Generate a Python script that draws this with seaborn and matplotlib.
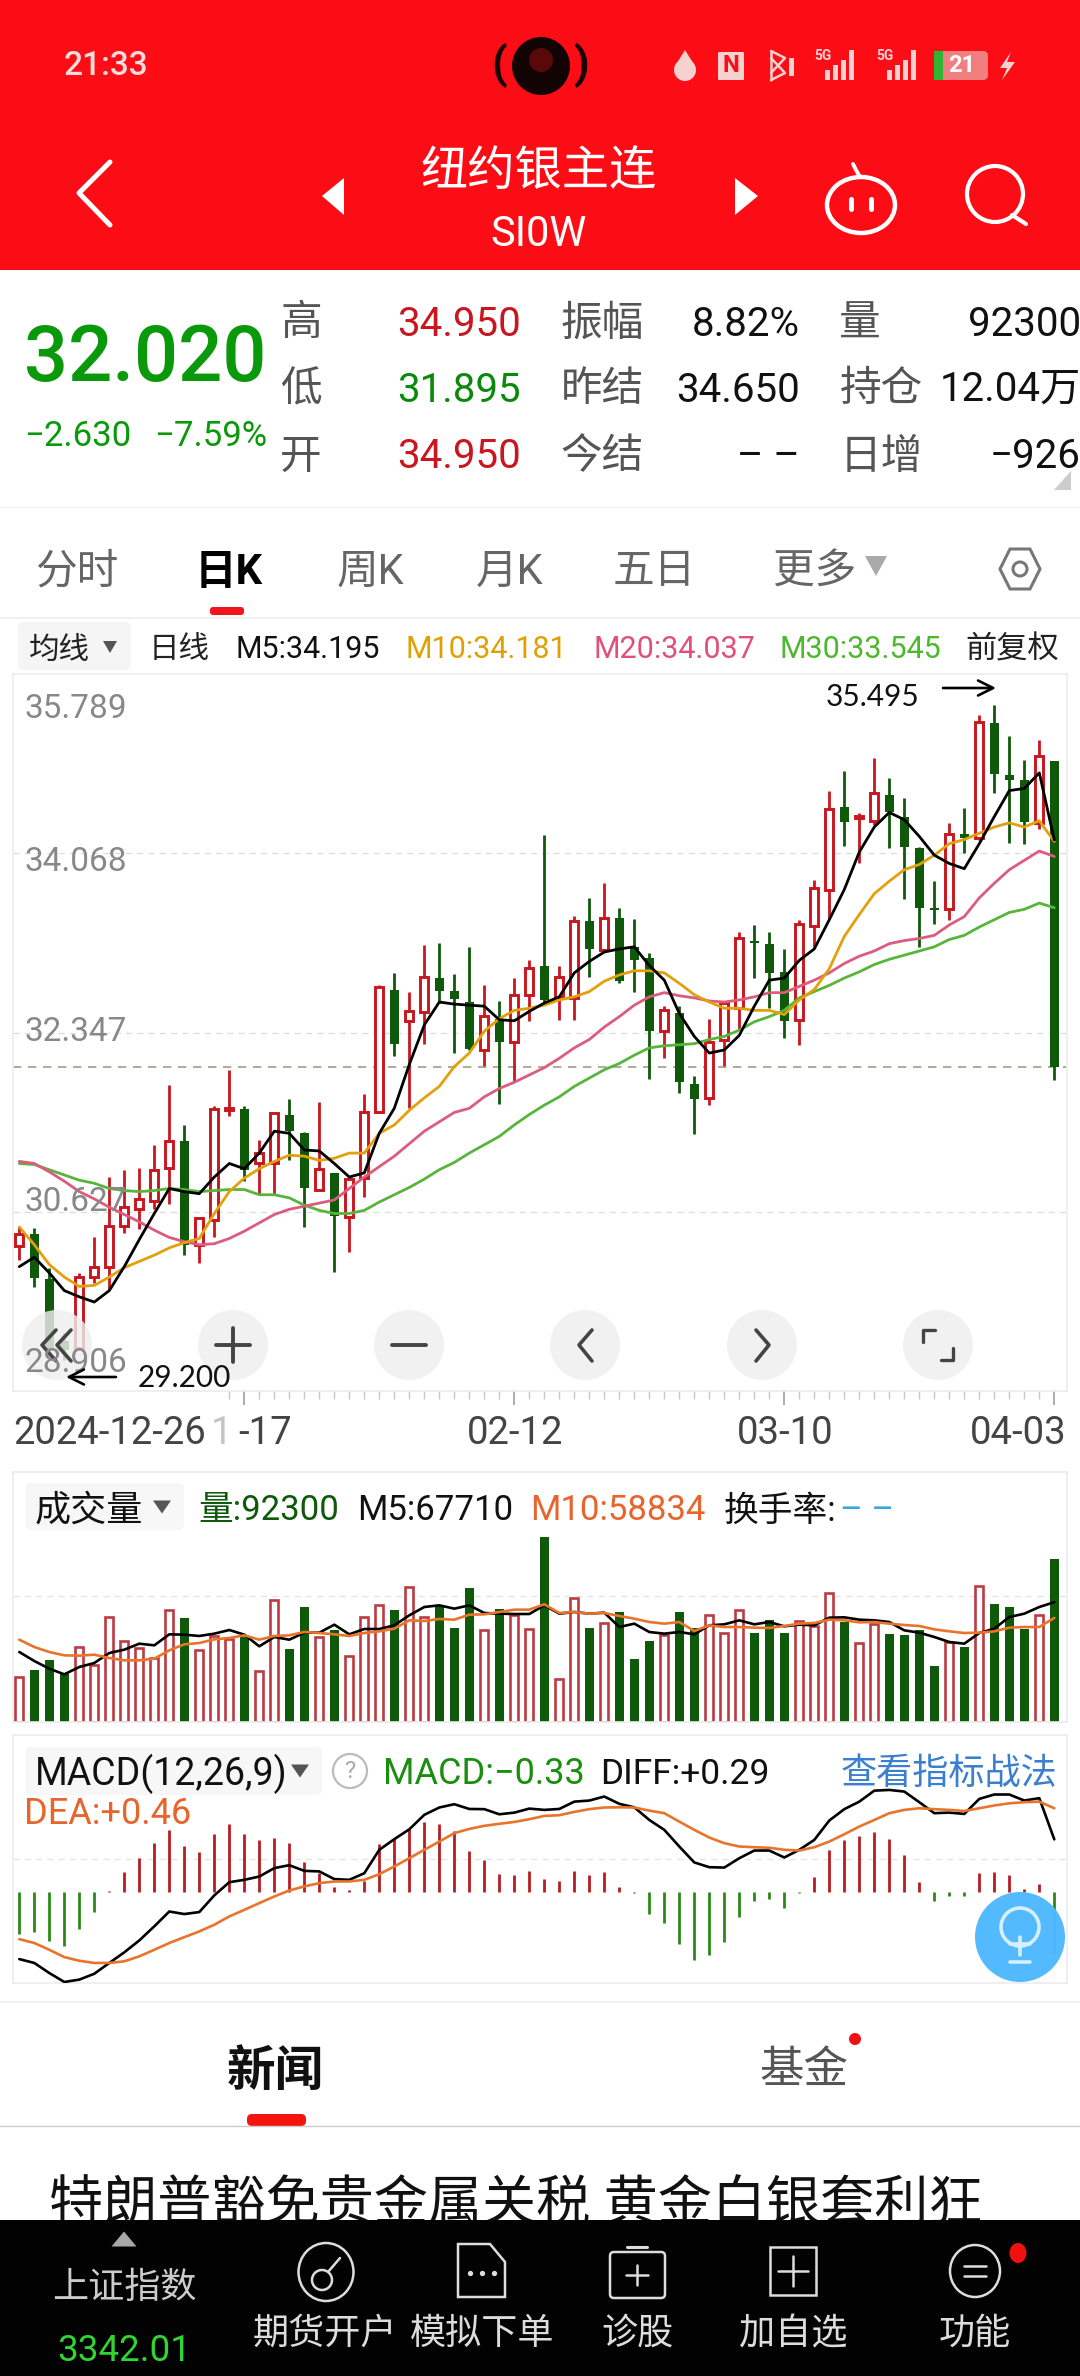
import numpy as np
import pandas as pd
import seaborn as sns
import matplotlib
matplotlib.use('Agg')
import matplotlib.pyplot as plt
from matplotlib.patches import Circle, Ellipse, Rectangle, Polygon, FancyBboxPatch

# candles
high = [30.48,30.47,30.09,29.46,30.04,30.38,30.96,31.03,31.05,31.27,31.84,31.46,30.58,31.64,31.99,31.64,31.32,31.57,31.71,31.39,
        31.68,31.00,30.95,31.76,32.80,32.92,32.74,33.19,33.21,32.91,33.17,32.80,32.65,32.87,33.04,34.24,32.99,33.47,33.64,33.78,
        33.54,33.44,33.11,32.60,32.60,31.93,32.48,32.64,33.31,33.38,33.31,33.15,33.43,33.81,34.67,34.86,34.45,34.98,34.79,34.60,
        34.13,33.80,34.36,34.50,35.40,35.495,35.19,34.96,35.16,34.95]
body_top = [30.41,30.41,29.98,29.39,30.00,30.10,30.49,30.67,30.75,31.03,31.31,31.31,30.57,31.61,31.62,31.61,31.19,31.57,31.56,31.38,
            31.04,31.00,30.94,31.585,32.78,32.76,32.55,32.88,32.87,32.75,32.64,32.51,32.48,32.71,32.97,32.99,32.88,33.42,33.42,33.45,
            33.45,33.17,33.06,32.56,32.53,31.85,32.26,32.63,33.25,33.23,33.20,32.93,33.39,33.73,34.49,34.51,34.43,34.65,34.63,34.42,
            34.12,33.54,34.25,34.25,35.33,35.32,34.82,34.77,35.00,34.95]
body_bot = [30.30,29.99,29.30,29.30,29.32,30.00,30.10,30.49,30.65,30.73,31.05,30.31,30.31,30.55,31.60,31.03,31.09,31.09,31.40,30.85,
            30.84,30.59,30.58,30.95,31.58,32.24,32.46,32.54,32.75,32.67,32.19,32.18,32.26,32.26,32.71,32.66,32.69,32.68,33.15,33.14,
            32.84,33.04,32.36,32.36,31.87,31.71,31.72,32.28,32.58,33.21,32.92,32.46,32.47,33.37,33.72,34.37,34.41,34.38,34.46,34.13,
            33.54,33.52,33.53,34.21,34.21,34.83,34.77,34.37,34.36,32.02]
low = [30.16,29.90,29.22,29.20,29.30,29.94,29.88,30.42,30.46,30.65,30.70,30.21,30.13,30.38,31.55,30.92,30.80,30.80,31.12,30.48,
       30.84,30.05,30.24,30.77,31.57,32.12,31.62,32.24,32.63,32.15,32.18,32.03,31.66,31.88,32.46,32.63,32.47,32.47,32.88,33.12,
       32.82,32.74,31.90,32.10,31.77,31.37,31.65,32.03,32.37,32.87,32.58,32.29,32.23,33.17,33.44,34.14,33.97,34.34,34.12,33.63,
       33.17,33.39,33.43,34.07,34.20,34.65,34.17,34.16,34.30,31.895]
# 1 = closed up (hollow red), 0 = closed down (solid green)
up = [1,0,0,0,1,1,1,1,1,1,1,0,1,1,1,0,1,1,0,0,
      1,0,1,1,1,0,1,1,0,0,0,1,0,1,1,0,1,1,0,1,
      0,0,0,1,0,0,1,1,1,0,0,0,1,1,1,0,1,1,0,0,
      0,0,1,0,1,0,0,0,1,0]

ma5 = [30.10,30.19,30.04,29.87,29.81,29.76,29.87,30.10,30.36,30.61,30.85,30.82,30.80,30.96,31.09,31.04,31.19,31.40,31.38,31.22,
       31.21,31.09,30.96,31.00,31.38,31.62,32.04,32.42,32.64,32.62,32.61,32.60,32.47,32.46,32.55,32.63,32.69,32.92,33.03,33.12,
       33.15,33.17,32.99,32.85,32.53,32.31,32.15,32.18,32.32,32.60,32.85,32.87,33.04,33.15,33.43,33.72,34.08,34.32,34.46,34.39,
       34.23,34.05,33.97,33.92,34.16,34.42,34.67,34.69,34.84,34.195]
ma10 = [30.48,30.31,30.12,30.00,29.91,29.92,30.00,30.09,30.15,30.21,30.28,30.33,30.37,30.61,30.82,30.95,31.04,31.11,31.17,31.16,
        31.12,31.14,31.19,31.19,31.38,31.46,31.60,31.72,31.83,32.02,32.15,32.36,32.48,32.56,32.58,32.61,32.66,32.69,32.74,32.84,
        32.90,32.94,32.94,32.92,32.82,32.71,32.64,32.58,32.58,32.56,32.56,32.52,32.66,32.76,32.96,33.27,33.48,33.68,33.80,33.91,
        33.96,34.05,34.16,34.20,34.26,34.32,34.36,34.32,34.38,34.181]
ma20 = [31.11,31.09,31.01,30.92,30.82,30.75,30.67,30.60,30.53,30.45,30.38,30.34,30.31,30.32,30.37,30.44,30.52,30.60,30.65,30.68,
        30.71,30.74,30.85,30.96,31.06,31.16,31.28,31.40,31.49,31.58,31.62,31.73,31.81,31.87,31.94,32.01,32.10,32.20,32.28,32.40,
        32.50,32.61,32.69,32.73,32.70,32.68,32.65,32.64,32.66,32.69,32.73,32.73,32.79,32.85,32.92,33.01,33.08,33.13,33.20,33.23,
        33.25,33.28,33.38,33.46,33.64,33.78,33.91,34.00,34.09,34.037]
ma30 = [31.09,31.08,31.03,30.98,30.93,30.90,30.85,30.83,30.82,30.83,30.85,30.84,30.82,30.83,30.84,30.84,30.79,30.79,30.76,30.69,
        30.64,30.61,30.61,30.64,30.72,30.79,30.86,30.94,31.03,31.10,31.19,31.27,31.35,31.46,31.56,31.65,31.73,31.83,31.91,31.99,
        32.05,32.13,32.20,32.22,32.23,32.24,32.28,32.31,32.37,32.45,32.50,32.56,32.68,32.74,32.80,32.87,32.93,33.00,33.05,33.09,
        33.13,33.17,33.24,33.28,33.36,33.43,33.50,33.53,33.59,33.545]

volume = [25430,29200,35230,26940,42200,32400,59350,45590,41640,36360,63490,58590,40510,48610,47100,48040,28830,68770,41450,65000,
          48040,51810,37110,59350,65940,63110,76300,59350,65940,52940,75550,51810,64060,60660,52560,104560,24300,69900,52940,56140,
          62170,35610,45590,48980,62170,53320,60660,50300,63490,50300,57460,50110,57090,54070,72720,56520,44460,55580,49550,48980,
          52190,31460,45220,42390,76870,66880,65000,52750,60660,92300]
vol_m5 = [39560,34480,30140,26940,31090,33350,39000,40880,44270,43330,49550,49360,48610,49930,52000,49360,42770,48040,46530,50490,
          50490,55010,49550,52560,52560,54640,60290,65000,65940,64060,65940,61610,61230,61040,61040,65940,61230,62170,61230,61800,
          53690,55580,50870,49930,50870,49550,54640,55200,57460,55200,56520,54070,55010,54640,58970,59160,57840,57460,56520,51810,
          50490,48040,45220,44270,50300,52750,59350,61230,65000,67710]
vol_m10 = [46530,42390,39560,37680,37490,38060,36170,34850,34850,35800,40510,43900,44650,46720,47480,48980,46530,48610,48980,50870,
           50300,49550,48610,50300,51240,52750,57460,57090,58220,57840,60660,60850,62170,63490,63490,66510,61610,62170,61230,61610,
           59910,58400,56520,55580,56520,51430,54640,53690,53690,53320,53130,54260,55580,55950,57840,57460,56330,56520,55580,54820,
           54260,52380,51240,50300,50490,51240,53320,53690,53690,58834]

macd = [-.225,-.215,-.267,-.291,-.198,-.107,.007,.111,.187,.269,.342,.253,.22,.32,.373,.32,.287,.3,.269,.169,
        .109,.029,.011,.065,.264,.291,.345,.387,.375,.333,.224,.178,.1,.096,.116,.075,.065,.115,.098,.111,
        .031,-.005,-.118,-.167,-.284,-.367,-.34,-.269,-.135,-.049,-.035,-.085,-.005,.087,.231,.287,.309,.329,.291,.202,
        .056,-.044,-.022,-.022,.105,.111,.096,.02,.045,-.33]
diff = [-.364,-.385,-.44,-.489,-.476,-.444,-.385,-.327,-.262,-.185,-.104,-.118,-.107,-.016,.056,.069,.087,.133,.149,.118,
        .115,.073,.069,.105,.233,.291,.345,.424,.464,.482,.456,.455,.427,.436,.458,.451,.456,.496,.502,.524,
        .484,.465,.396,.342,.251,.164,.138,.136,.187,.229,.229,.191,.233,.287,.393,.455,.496,.556,.56,.551,
        .493,.433,.436,.429,.511,.535,.535,.502,.515,.29]
dea = [-.255,-.276,-.313,-.353,-.373,-.385,-.385,-.376,-.349,-.313,-.276,-.244,-.213,-.176,-.131,-.095,-.058,-.022,.011,.033,
       .051,.06,.06,.069,.1,.142,.187,.233,.278,.324,.347,.364,.375,.385,.4,.418,.422,.44,.455,.464,
       .465,.464,.447,.433,.387,.342,.3,.269,.251,.247,.244,.233,.229,.247,.278,.318,.36,.396,.433,.451,
       .46,.455,.451,.445,.46,.475,.487,.493,.496,.46]

price_grid = [34.068, 32.347, 30.627]
last_close = 32.02
tab_names = ['分时', '周K', '月K', '五日', '更多']

W, H = 1080, 2376
RED, GREEN = '#c9161f', '#0f5a0a'
VOL_RED = '#bd3a42'

sns.set_theme(style='white')
plt.rcParams['font.family'] = ['Roboto', 'Noto Sans CJK SC', 'DejaVu Sans']
plt.rcParams['axes.unicode_minus'] = False

fig = plt.figure(figsize=(W / 100, H / 100), dpi=100, facecolor='white')


def px_axes(left, top, right, bottom):
    a = fig.add_axes([left / W, 1 - bottom / H, (right - left) / W, (bottom - top) / H], zorder=2)
    a.set_facecolor('white')
    for s in a.spines.values():
        s.set_color('#ececec')
        s.set_linewidth(1.2)
    a.set_xticks([])
    a.set_yticks([])
    a.set_xlabel('')
    a.set_ylabel('')
    return a


df = pd.DataFrame({'i': np.arange(len(high)), 'high': high, 'low': low, 'top': body_top, 'bot': body_bot, 'up': up,
                   'volume': volume, 'macd': macd})
XLIM = ((13 - 19.3) / 15, (1067 - 19.3) / 15)

# price panel
ax = px_axes(13, 674, 1067, 1391)
rise = df[df.up == 1]
fall = df[df.up == 0]
ax.vlines(rise.i, rise.low, rise.high, color=RED, lw=2.0, zorder=2)
ax.vlines(fall.i, fall.low, fall.high, color=GREEN, lw=2.0, zorder=2)
ax.bar(rise.i, rise.top - rise.bot, bottom=rise.bot, width=0.53, facecolor='white', edgecolor=RED, linewidth=2.1, zorder=3)
ax.bar(fall.i, fall.top - fall.bot, bottom=fall.bot, width=0.6, color=GREEN, linewidth=0, zorder=3)
ax.hlines(price_grid, *XLIM, color='#dddddd', lw=0.9, linestyles=(0, (5, 4)), zorder=1)
ax.hlines(last_close, *XLIM, color='#a39d84', lw=1.2, linestyles=(0, (5, 4)), zorder=1)
ma = pd.DataFrame({'i': df.i, 'M5': ma5, 'M10': ma10, 'M20': ma20, 'M30': ma30}).melt('i', var_name='ma', value_name='price')
sns.lineplot(data=ma, x='i', y='price', hue='ma', linewidth=2.0, legend=False, ax=ax, zorder=4,
             palette={'M5': '#000000', 'M10': '#e2a00c', 'M20': '#dc5c7e', 'M30': '#58b53c'},
             hue_order=['M30', 'M20', 'M10', 'M5'])
ax.set_xlim(XLIM)
ax.set_ylim(28.906, 35.789)
ax.set_xlabel('')
ax.set_ylabel('')
ax.set_yticks([])
ax.set_xticks([15, 33, 51, 69])
ax.set_xticks(range(14, 70), minor=True)
ax.tick_params(axis='x', which='major', bottom=True, length=10, width=1.2, color='#a0a0a0', labelbottom=False)
ax.tick_params(axis='x', which='minor', bottom=True, length=5.5, width=1, color='#c8c8c8')

# volume panel
ax_v = px_axes(13, 1472, 1067, 1722)
sns.barplot(data=df[df.up == 1], x='i', y='volume', native_scale=True, width=0.55, color='white', saturation=1,
            edgecolor=VOL_RED, linewidth=1.9, ax=ax_v, zorder=2)
sns.barplot(data=df[df.up == 0], x='i', y='volume', native_scale=True, width=0.6, color=GREEN, saturation=1,
            linewidth=0, ax=ax_v, zorder=2)
ax_v.axhline(71000, color='#e4e4e4', lw=0.9, ls=(0, (5, 4)), zorder=1)
vol_ma = pd.DataFrame({'i': df.i, 'M5': vol_m5, 'M10': vol_m10}).melt('i', var_name='ma', value_name='v')
sns.lineplot(data=vol_ma, x='i', y='v', hue='ma', linewidth=1.9, legend=False, ax=ax_v, zorder=4,
             palette={'M5': '#000000', 'M10': '#e8742c'})
ax_v.set_xlim(XLIM)
ax_v.set_ylim(0, 141300)
ax_v.set_xticks([])
ax_v.set_yticks([])
ax_v.set_xlabel('')
ax_v.set_ylabel('')

# macd panel
ax_m = px_axes(13, 1735, 1067, 1983)
pos = df[df.macd >= 0]
neg = df[df.macd < 0]
ax_m.vlines(pos.i, 0, pos.macd, color='#b51c24', lw=2.0, zorder=2)
ax_m.vlines(neg.i, 0, neg.macd, color='#2a8a16', lw=2.0, zorder=2)
ax_m.axhline(0.182, color='#e4e4e4', lw=0.9, ls=(0, (5, 4)), zorder=1)
macd_lines = pd.DataFrame({'i': df.i, 'DIFF': diff, 'DEA': dea}).melt('i', var_name='line', value_name='v')
sns.lineplot(data=macd_lines, x='i', y='v', hue='line', linewidth=1.9, legend=False, ax=ax_m, zorder=4,
             palette={'DIFF': '#000000', 'DEA': '#e8742c'})
ax_m.set_xlim(XLIM)
ax_m.set_ylim(-0.4945, 0.86)
ax_m.set_xticks([])
ax_m.set_yticks([])
ax_m.set_xlabel('')
ax_m.set_ylabel('')

# screen chrome lives on a full-figure overlay measured in screen pixels
ui = fig.add_axes([0, 0, 1, 1], zorder=5)
ui.set_xlim(0, W)
ui.set_ylim(H, 0)
ui.axis('off')
ui.patch.set_alpha(0)


def label(x, y, s, size, color='#111111', ha='center', **kw):
    # +3: matplotlib's centring leaves these fonts a bit high
    return ui.text(x, y + 3, s, fontsize=size, color=color, ha=ha, va='center', **kw)


def line(xs, ys, color='white', lw=2.5, **kw):
    ui.plot(xs, ys, color=color, lw=lw, solid_capstyle='round', **kw)


def box(l, t, r, b, color, rad=6):
    ui.add_patch(FancyBboxPatch((l + rad, t + rad), r - l - 2 * rad, b - t - 2 * rad, boxstyle=f'round,pad={rad}',
                                facecolor=color, edgecolor='none'))


def tri(cx, cy, w, h, color, down=True):
    d = h / 2 if down else -h / 2
    ui.add_patch(Polygon([(cx - w / 2, cy - d), (cx + w / 2, cy - d), (cx, cy + d)], facecolor=color, edgecolor='none'))


# red header
ui.add_patch(Rectangle((0, 0), W, 270, facecolor='#fc0d15', edgecolor='none'))
label(106, 63, '21:33', 24, '#f6dcdc', weight='medium')
ui.add_patch(Circle((541, 66), 29, facecolor='#120404', edgecolor='none'))
ui.add_patch(Circle((541, 60), 12, facecolor='#5a0808', edgecolor='none'))
label(499, 62, '(', 32, '#1a0505', weight='bold')
label(581, 62, ')', 32, '#1a0505', weight='bold')
# status icons
ui.add_patch(Circle((685, 70), 11, facecolor='#f7d0d0', edgecolor='none'))
ui.add_patch(Polygon([(685, 50), (695, 66), (675, 66)], facecolor='#f7d0d0', edgecolor='none'))
ui.add_patch(FancyBboxPatch((719, 53), 24, 26, boxstyle='round,pad=1', facecolor='#f7d0d0', edgecolor='none'))
label(731, 63, 'N', 17, '#fc0d15', weight='bold')
line([771, 785, 771], [58, 73, 80], color='#f7d0d0', lw=1.8)
line([771, 785, 771], [73, 58, 51], color='#f7d0d0', lw=1.8)
line([771, 771], [51, 80], color='#f7d0d0', lw=1.8)
ui.add_patch(Rectangle((789, 58), 5, 18, facecolor='#f7d0d0', edgecolor='none'))
for x0 in (818, 880):
    label(x0 + 5, 53, '5G', 10, '#f7d0d0', weight='bold')
    for k, h_bar in enumerate((10, 15, 20, 30)):
        ui.add_patch(Rectangle((x0 + 7 + k * 8, 80 - h_bar), 5, h_bar, facecolor='#f7d0d0', edgecolor='none'))
box(934, 51, 988, 80, '#f27f7f', rad=5)
ui.add_patch(Rectangle((934, 51), 9, 29, facecolor='#2fb52f', edgecolor='none'))
label(962, 63, '21', 17, 'white', weight='bold')
ui.add_patch(Polygon([(1011, 52), (1000, 68), (1007, 68), (1002, 80), (1015, 62), (1007, 62)], facecolor='#f7d0d0', edgecolor='none'))
# title row
line([110, 79, 110], [162, 193, 225], lw=3.6)
ui.add_patch(Polygon([(322, 196), (344, 178), (344, 215)], facecolor='white', edgecolor='none'))
ui.add_patch(Polygon([(758, 196), (735, 178), (735, 215)], facecolor='white', edgecolor='none'))
label(539, 169, '纽约银主连', 34, 'white')
label(539, 232, 'SI0W', 30, 'white')
ui.add_patch(Ellipse((861, 205), 68, 56, facecolor='none', edgecolor='white', lw=3.2))
line([851, 851], [199, 209], lw=3.6)
line([871, 871], [199, 209], lw=3.6)
line([853, 856, 860], [164, 170, 177], lw=2.8)
ui.add_patch(Circle((995, 194), 28, facecolor='none', edgecolor='white', lw=3))
line([1012, 1026], [215, 224], lw=3)

# quote block
label(145, 357, '32.020', 56, '#0a990a', weight='medium')
label(78, 434, '−2.630', 25, '#0a990a')
label(211, 434, '−7.59%', 25, '#0a990a')
rows = [321, 387, 454]
for y, s in zip(rows, ['高', '低', '开']):
    label(301, y, s, 30, '#555555')
for y, s, c in zip(rows, ['34.950', '31.895', '34.950'], [RED, '#0a8a0a', RED]):
    label(521, y, s, 29, c, ha='right')
for y, s in zip(rows, ['振幅', '昨结', '今结']):
    label(602, y, s, 30, '#555555')
for y, s in zip(rows, ['8.82%', '34.650', '– –']):
    label(800, y, s, 29, '#111111', ha='right')
label(839, rows[0], '量', 30, '#555555', ha='left')
label(881, rows[1], '持仓', 30, '#555555')
label(881, rows[2], '日增', 30, '#555555')
label(1081, rows[0], '92300', 29, '#111111', ha='right')
label(1081, rows[1], '12.04万', 29, '#111111', ha='right')
label(1081, rows[2], '−926', 29, '#111111', ha='right')
ui.add_patch(Polygon([(1071, 471), (1071, 490), (1054, 490)], facecolor='#cccccc', edgecolor='none'))
line([0, W], [507, 507], color='#f0f0f0', lw=1)

# tabs
for x, s in zip([77, 370, 510, 654, 815], tab_names):
    label(x, 569, s, 30, '#666666')
label(229, 569, '日K', 30, '#000000', weight='bold')
tri(876, 566, 22, 20, '#aaaaaa')
ui.add_patch(Polygon([(1000, 569), (1010, 549), (1030, 549), (1040, 569), (1030, 589), (1010, 589)], facecolor='none', edgecolor='#777777', lw=2.2))
ui.add_patch(Circle((1020, 569), 7, facecolor='none', edgecolor='#777777', lw=2.2))
box(210, 607, 244, 615, '#f0151c', rad=3)
line([0, W], [618, 618], color='#eeeeee', lw=1.2)

# moving average legend
box(18, 622, 131, 670, '#f5f5f5', rad=5)
label(59, 647, '均线', 22, '#222222')
tri(110, 647, 14, 12, '#555555')
label(179, 647, '日线', 22, '#222222')
label(236, 647, 'M5:34.195', 22, '#111111', ha='left')
label(405, 647, 'M10:34.181', 22, '#e0a000', ha='left')
label(593, 647, 'M20:34.037', 22, '#e0507a', ha='left')
label(779, 647, 'M30:33.545', 22, '#4cb82c', ha='left')
label(1012, 647, '前复权', 22.5, '#222222')

# price labels sit a little off their grid lines in the app
for y, s in zip([706, 859, 1029, 1199, 1360], ['35.789', '34.068', '32.347', '30.627', '28.906']):
    label(25, y, s, 24, '#888888', ha='left')

label(873, 694, '35.495', 21.5, '#111111', family=['Lato', 'Noto Sans CJK SC'])
ui.annotate('', xy=(996, 688), xytext=(943, 688), arrowprops=dict(arrowstyle='->,head_length=0.9,head_width=0.45', color='black', lw=1.9, shrinkA=0, shrinkB=0))
label(184, 1375, '29.200', 21.5, '#111111', family=['Lato', 'Noto Sans CJK SC'])
ui.annotate('', xy=(66, 1377), xytext=(116, 1377), arrowprops=dict(arrowstyle='->,head_length=0.9,head_width=0.45', color='black', lw=1.9, shrinkA=0, shrinkB=0))

# floating buttons
for x in (57, 233, 409, 585, 762, 938):
    ui.add_patch(Circle((x, 1345), 35, facecolor='#eeeeee', edgecolor='none', alpha=0.82))
line([56, 42, 56], [1330, 1345, 1361], color='#444444', lw=2.6)
line([71, 57, 71], [1330, 1345, 1361], color='#444444', lw=2.6)
line([216, 250], [1345, 1345], color='#444444', lw=2.8)
line([233, 233], [1328, 1362], color='#444444', lw=2.8)
line([392, 426], [1345, 1345], color='#444444', lw=2.8)
line([592, 579, 592], [1330, 1345, 1361], color='#444444', lw=2.6)
line([756, 769, 756], [1330, 1345, 1361], color='#444444', lw=2.6)
for sx, sy in ((-1, -1), (1, 1)):
    cx, cy = 938 + sx * 15, 1345 + sy * 15
    line([cx, cx, cx - sx * 12], [cy - sy * 12, cy, cy], color='#444444', lw=2.4)

# date row
label(13, 1431, '2024-12-26', 27.5, '#444444', ha='left')
label(232, 1431, '1', 27.5, '#c4c4c4', ha='right')
label(292, 1431, '-17', 27.5, '#444444', ha='right')
label(515, 1431, '02-12', 27.5, '#444444')
label(785, 1431, '03-10', 27.5, '#444444')
label(1067, 1431, '04-03', 27.5, '#444444', ha='right')

# volume header
box(25, 1483, 184, 1530, '#f7f7f7', rad=6)
label(35, 1508, '成交量', 26, '#111111', ha='left')
tri(162, 1507, 18, 13, '#555555')
label(198, 1508, '量:92300', 25, GREEN, ha='left')
label(357, 1508, 'M5:67710', 25, '#111111', ha='left')
label(530, 1508, 'M10:58834', 25, '#e8642c', ha='left')
label(724, 1508, '换手率:', 25, '#111111', ha='left')
label(840, 1508, '– –', 25, '#3aa6dc', ha='left')

# macd header
box(25, 1747, 322, 1795, '#f7f7f7', rad=6)
label(35, 1771, 'MACD(12,26,9)', 27, '#111111', ha='left')
tri(300, 1771, 18, 13, '#555555')
ui.add_patch(Circle((350, 1771), 17, facecolor='white', edgecolor='#bbbbbb', lw=1.6))
label(350, 1768, '?', 17, '#aaaaaa')
label(383, 1771, 'MACD:−0.33', 26, '#1a8f0f', ha='left')
label(600, 1771, 'DIFF:+0.29', 25.5, '#111111', ha='left')
label(841, 1771, '查看指标战法', 26, '#3a7fd0', ha='left')
label(24, 1811, 'DEA:+0.46', 26, '#e8642c', ha='left')

# hint bulb
ui.add_patch(Circle((1020, 1937), 45, facecolor='#4db8ff', edgecolor='none', alpha=0.97))
ui.add_patch(Circle((1020, 1927), 19, facecolor='none', edgecolor='#d6efff', lw=2.6))
line([1010, 1030], [1944, 1944], color='#d6efff', lw=2.6)
line([1020, 1020], [1937, 1955], color='#d6efff', lw=2.6)
line([1010, 1030], [1962, 1962], color='#d6efff', lw=2.6)

# news block
line([0, W], [2002, 2002], color='#f0f0f0', lw=1.2)
label(275, 2070, '新闻', 35, '#111111', weight='bold')
label(804, 2068, '基金', 32, '#555555')
ui.add_patch(Circle((855, 2039), 6, facecolor='#ee1111', edgecolor='none'))
line([0, W], [2126, 2126], color='#cccccc', lw=1)
box(247, 2114, 306, 2126, '#f5150f', rad=5)
label(49, 2203, '特朗普豁免贵金属关税 黄金白银套利狂', 39, '#111111', ha='left')

# bottom bar
ui.add_patch(Rectangle((0, 2220), W, 156, facecolor='#020202', edgecolor='none', zorder=3))
zt = dict(zorder=4)
tri(124, 2239, 25, 15, '#a8a8a8', down=False)
ui.patches[-1].set_zorder(4)
label(124, 2285, '上证指数', 26, '#cccccc', **zt)
label(124, 2348, '3342.01', 26.5, '#2fd62f', **zt)
for x, s in zip([325, 482, 637, 793, 975], ['期货开户', '模拟下单', '诊股', '加自选', '功能']):
    label(x, 2331, s, 26, '#dddddd', **zt)
ic = dict(facecolor='none', edgecolor='#dddddd', lw=1.8, zorder=4)
ui.add_patch(Ellipse((326, 2272), 55, 58, **ic))
ui.add_patch(Circle((322, 2280), 10, **ic))
ui.plot([328, 340], [2272, 2258], color='#dddddd', lw=1.8, zorder=4)
ui.add_patch(Polygon([(458, 2244), (490, 2244), (505, 2262), (505, 2297), (458, 2297)], **ic))
ui.plot([470, 482, 494], [2273, 2273, 2273], ls='none', marker='o', ms=2.8, color='#dddddd', zorder=4)
ui.add_patch(FancyBboxPatch((614, 2256), 47, 38, boxstyle='round,pad=4', **ic))
ui.plot([626, 648], [2275, 2275], color='#dddddd', lw=1.8, zorder=4)
ui.plot([637, 637], [2265, 2285], color='#dddddd', lw=1.8, zorder=4)
ui.plot([627, 647], [2247, 2247], color='#dddddd', lw=2.2, zorder=4)
ui.add_patch(Rectangle((770, 2247), 46, 48, **ic))
ui.plot([778, 808], [2271, 2271], color='#dddddd', lw=1.8, zorder=4)
ui.plot([793, 793], [2256, 2286], color='#dddddd', lw=1.8, zorder=4)
ui.add_patch(Ellipse((975, 2271), 50, 52, **ic))
ui.plot([964, 986], [2266, 2266], color='#dddddd', lw=1.8, zorder=4)
ui.plot([964, 986], [2276, 2276], color='#dddddd', lw=1.8, zorder=4)
ui.add_patch(Ellipse((1018, 2253), 17, 20, facecolor='#f01010', edgecolor='none', zorder=4))

fig.savefig('out.png', dpi=100)
